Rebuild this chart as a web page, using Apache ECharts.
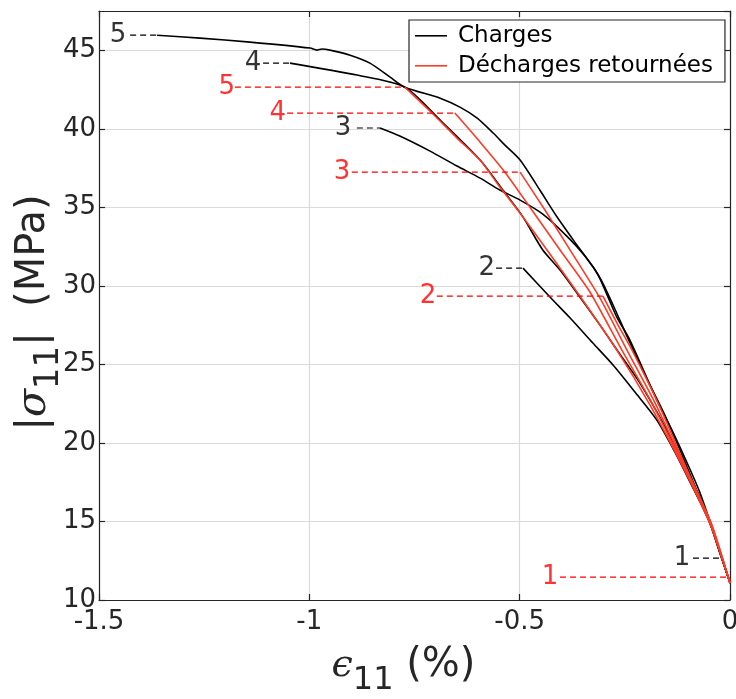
<!DOCTYPE html>
<html><head><meta charset="utf-8">
<script src="https://cdn.jsdelivr.net/npm/echarts@6/dist/echarts.min.js"></script>
<style>html,body{margin:0;padding:0;background:#fff}#c{width:736px;height:699px}</style>
</head><body><div id="c"></div>
<script>
// ---- data ----
const xTicks = [-1.5, -1, -0.5, 0];
const yTicks = [10, 15, 20, 25, 30, 35, 40, 45];
const legendNames = ['Charges', 'Décharges retournées'];

// loading curves (from origin up to the labelled end point)
const charge1 = [[0, 11.08], [-0.0095, 11.9], [-0.019, 12.67]];
const charge2 = [[0, 11.08], [-0.024, 12.99], [-0.048, 14.90], [-0.095, 17.51], [-0.131, 19.42], [-0.174, 21.46], [-0.226, 23.24], [-0.278, 24.96], [-0.326, 26.36], [-0.380, 27.95], [-0.428, 29.29], [-0.492, 31.13]];
const charge3 = [[0, 11.08], [-0.024, 12.99], [-0.048, 14.90], [-0.107, 18.78], [-0.155, 21.78], [-0.202, 24.32], [-0.243, 26.68], [-0.278, 28.78], [-0.309, 30.50], [-0.345, 31.90], [-0.388, 33.17], [-0.445, 34.57], [-0.499, 35.46], [-0.547, 36.10], [-0.594, 36.86], [-0.649, 37.63], [-0.713, 38.58], [-0.785, 39.54], [-0.832, 40.05]];
const charge4 = [[0, 11.08], [-0.041, 14.46], [-0.072, 16.56], [-0.107, 18.53], [-0.150, 20.82], [-0.214, 23.81], [-0.262, 25.66], [-0.309, 27.50], [-0.357, 29.29], [-0.404, 31.01], [-0.445, 32.28], [-0.492, 34.38], [-0.540, 36.10], [-0.594, 38.01], [-0.689, 40.55], [-0.773, 42.65], [-0.887, 43.42], [-1.046, 44.18]];
const charge5 = [[0, 11.08], [-0.041, 14.46], [-0.072, 16.87], [-0.105, 18.91], [-0.138, 20.82], [-0.174, 22.73], [-0.238, 26.55], [-0.269, 28.01], [-0.292, 29.41], [-0.316, 30.82], [-0.364, 32.60], [-0.411, 34.38], [-0.452, 36.10], [-0.499, 38.01], [-0.535, 38.96], [-0.563, 39.73], [-0.601, 40.68], [-0.642, 41.38], [-0.689, 41.95], [-0.773, 42.65], [-0.808, 43.29], [-0.856, 44.18], [-0.903, 44.69], [-0.951, 45.01], [-0.970, 45.08], [-0.982, 45.01], [-0.998, 45.14], [-1.141, 45.52], [-1.260, 45.77], [-1.362, 45.96]];

// returned unloading curves (from labelled top point down to origin)
const decharge1 = [[-0.002, 11.46], [0, 11.08]];
const decharge2 = [[-0.302, 29.35], [-0.266, 27.50], [-0.233, 25.91], [-0.171, 22.54], [-0.105, 18.47], [-0.045, 14.90], [0, 11.08]];
const decharge3 = [[-0.499, 37.24], [-0.440, 34.83], [-0.380, 32.28], [-0.309, 29.22], [-0.245, 25.91], [-0.178, 22.54], [-0.107, 18.47], [-0.045, 14.90], [0, 11.08]];
const decharge4 = [[-0.654, 41.00], [-0.594, 39.15], [-0.535, 37.24], [-0.476, 35.02], [-0.404, 32.28], [-0.333, 29.61], [-0.257, 25.91], [-0.183, 22.41], [-0.110, 18.47], [-0.048, 14.90], [0, 11.08]];
const decharge5 = [[-0.773, 42.65], [-0.706, 40.94], [-0.649, 39.41], [-0.594, 38.01], [-0.547, 36.29], [-0.499, 34.63], [-0.435, 32.28], [-0.357, 29.35], [-0.269, 25.91], [-0.190, 22.41], [-0.112, 18.47], [-0.048, 14.90], [0, 11.08]];

// leader annotations: label text, label x, dashed-line start x
const cycleLabels = ['1', '2', '3', '4', '5'];
const chargeLabelX = [-0.114, -0.578, -0.920, -1.134, -1.455];
const chargeLeaderX = [-0.088, -0.556, -0.887, -1.110, -1.426];
const dechargeLabelX = [-0.428, -0.718, -0.922, -1.075, -1.196];
const dechargeLeaderX = [-0.404, -0.697, -0.899, -1.053, -1.177];

// ---- chart ----
const charges = [charge1, charge2, charge3, charge4, charge5];
const decharges = [decharge1, decharge2, decharge3, decharge4, decharge5];
const FONT = '"DejaVu Sans", sans-serif';
const AX = '#262626';
const BLACK = '#000000';
const RED = '#ff3a24';
const LINE_ICON = 'path://M0,0M0,11h32v1.6h-32zM32,24';

const series = [];
charges.forEach(d => series.push({
  name: legendNames[0], type: 'line', data: d, symbol: 'none', smooth: 0.25,
  lineStyle: { color: BLACK, width: 1.6 }, itemStyle: { color: BLACK }, z: 3
}));
decharges.forEach(d => series.push({
  name: legendNames[1], type: 'line', data: d, symbol: 'none', smooth: 0.2,
  lineStyle: { color: RED, width: 1.6 }, itemStyle: { color: RED }, z: 4
}));
// leader lines + labels
function addLeaders(curves, endPick, labelX, leaderX, color, z) {
  curves.forEach((d, i) => {
    const end = endPick(d);
    series.push({
      name: 'leader', type: 'line', symbol: 'none', silent: true, z: z,
      data: [[leaderX[i], end[1]], [end[0], end[1]]],
      lineStyle: { color: color, width: 1.2, type: [6, 4] }
    });
    series.push({
      name: 'label', type: 'scatter', symbolSize: 1, silent: true, z: z,
      itemStyle: { color: 'rgba(0,0,0,0)' },
      data: [[labelX[i], end[1], cycleLabels[i]]],
      label: { show: true, position: 'inside', formatter: p => p.data[2],
        color: color, fontFamily: FONT, fontSize: 26 }
    });
  });
}
addLeaders(charges, d => d[d.length - 1], chargeLabelX, chargeLeaderX, '#000', 5);
addLeaders(decharges, d => d[0], dechargeLabelX, dechargeLeaderX, '#ff0000', 5);

const axisCommon = {
  type: 'value',
  axisLine: { show: true, onZero: false, lineStyle: { color: AX, width: 1.2 } },
  axisTick: { show: true, inside: true, length: 6, lineStyle: { color: AX, width: 1.2 } },
};

const option = {
  animation: false,
  backgroundColor: '#ffffff',
  grid: { left: 99, top: 11, width: 631, height: 589, containLabel: false, outerBoundsMode: 'none' },
  legend: {
    data: [{ name: legendNames[0], icon: LINE_ICON }, { name: legendNames[1], icon: LINE_ICON }],
    orient: 'vertical', left: 409, top: 20,
    padding: [4, 12, 4, 6], itemGap: 6, itemWidth: 32, itemHeight: 24,
    borderColor: AX, borderWidth: 1.2, backgroundColor: '#fff',
    textStyle: { fontFamily: FONT, fontSize: 23, color: '#000', padding: [0, 0, 0, 6] },
    selectedMode: false, z: 10
  },
  xAxis: [
    Object.assign({}, axisCommon, {
      min: xTicks[0], max: xTicks[xTicks.length - 1], interval: 0.5, position: 'bottom',
      axisLabel: { color: AX, fontFamily: FONT, fontSize: 26, margin: 9, formatter: v => String(v) },
      splitLine: { show: true, lineStyle: { color: '#dadada', width: 1.2 } },
      name: '{e|ϵ}{s|11} {t|(%)}', nameLocation: 'middle', nameGap: 35,
      nameTextStyle: { color: AX, fontFamily: FONT, fontSize: 40, padding: [0, 22, 0, 0],
        rich: {
          e: { fontFamily: '"DejaVu Serif", serif', fontStyle: 'italic', fontSize: 38, color: AX },
          s: { fontFamily: FONT, fontSize: 32, color: AX, padding: [30, 0, 0, 0] },
          t: { fontFamily: FONT, fontSize: 40, color: AX }
        } }
    }),
    Object.assign({}, axisCommon, {
      min: xTicks[0], max: xTicks[xTicks.length - 1], interval: 0.5, position: 'top',
      axisLabel: { show: false }, splitLine: { show: false }
    })
  ],
  yAxis: [
    Object.assign({}, axisCommon, {
      min: yTicks[0], max: 47.5, interval: 5, position: 'left',
      axisLabel: { color: AX, fontFamily: FONT, fontSize: 26, margin: 3, showMaxLabel: false },
      splitLine: { show: true, lineStyle: { color: '#dadada', width: 1.2 } },
      name: '{t||}{e|σ}{s|11}{t||  (MPa)}', nameLocation: 'middle', nameGap: 33, nameRotate: 90,
      nameMoveOverlap: false,
      nameTextStyle: { color: AX, fontFamily: FONT, fontSize: 40, padding: [0, 14, 0, 0],
        rich: {
          e: { fontFamily: '"DejaVu Serif", serif', fontStyle: 'italic', fontSize: 41, color: AX },
          s: { fontFamily: FONT, fontSize: 34, color: AX, padding: [30, 0, 0, 0] },
          t: { fontFamily: FONT, fontSize: 40, color: AX }
        } }
    }),
    Object.assign({}, axisCommon, {
      min: yTicks[0], max: 47.5, interval: 5, position: 'right',
      axisLabel: { show: false }, splitLine: { show: false }
    })
  ],
  series: series
};

const chart = echarts.init(document.getElementById('c'), null, { renderer: 'canvas' });
chart.setOption(option);
</script>
</body></html>
